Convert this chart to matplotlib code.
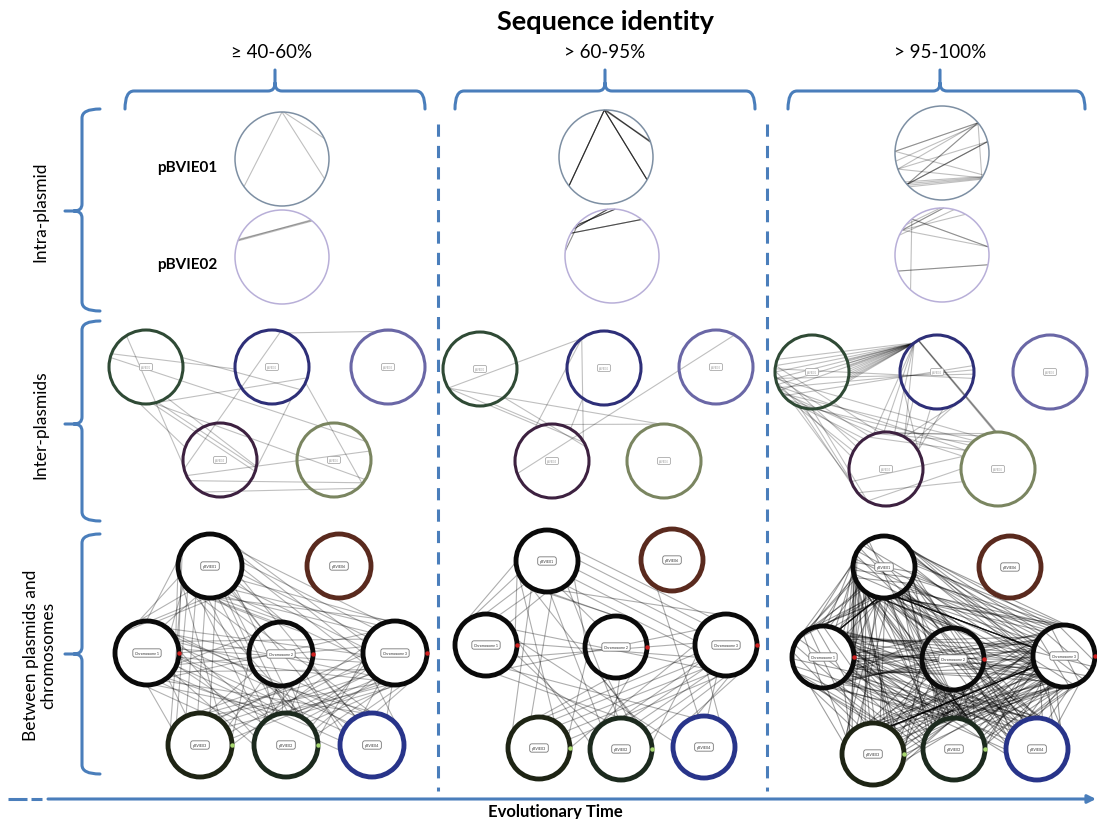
import numpy as np
import matplotlib.pyplot as plt
from math import gcd
from matplotlib.patches import Circle, PathPatch
from matplotlib.path import Path
from matplotlib.collections import LineCollection

plt.rcParams['font.family'] = ['Lato', 'DejaVu Sans']

# ---- data ---------------------------------------------------------------
identity_bins = ['\u2265 40-60%', '> 60-95%', '> 95-100%']
row_labels = ['Intra-plasmid', 'Inter-plasmids', 'Between plasmids and\nchromosomes']
intra_names = ['pBVIE01', 'pBVIE02']
inter_names = ['pBVIE01', 'pBVIE02', 'pBVIE03', 'pBVIE04', 'pBVIE05']
genome_names = ['pBVIE01', 'pBVIE06', 'Chromosome 1', 'Chromosome 2', 'Chromosome 3',
                'pBVIE03', 'pBVIE02', 'pBVIE04']

# links: (node a, pos a from, pos a to, node b, pos b from, pos b to, number of hits)
# positions are angles (deg) on the circular replicon
intra_links = [
    [(0, 90, 90, 0, 216, 216, 1), (0, 90, 90, 0, -25, -25, 1), (0, 88, 88, 0, 26, 26, 1),
     (1, 160, 158, 1, 50, 52, 3)],
    [(0, 92, 92, 0, 218, 218, 3), (0, 92, 92, 0, -29, -29, 3), (0, 90, 92, 0, 18, 20, 3),
     (1, 139, 139, 1, 86, 86, 2), (1, 151, 151, 1, 51, 51, 2), (1, 174, 174, 1, 135, 135, 1),
     (1, 145, 145, 1, 95, 95, 2)],
    [(0, 40, 40, 0, 178, 178, 2), (0, 40, 40, 0, 200, 200, 1), (0, 40, 40, 0, 222, 222, 2),
     (0, 38, 38, 0, 190, 190, 1), (0, 14, 14, 0, 222, 222, 3), (0, 218, 226, 0, -30, -34, 4),
     (0, 200, 200, 0, -32, -32, 1), (0, 178, 178, 0, -28, -28, 1), (0, 40, 40, 0, -32, -32, 1),
     (0, 14, 14, 0, 200, 200, 1),
     (1, 148, 148, 1, 88, 88, 2), (1, 140, 140, 1, 92, 92, 1), (1, 148, 148, 1, 60, 60, 1),
     (1, 130, 130, 1, 10, 10, 2), (1, 148, 148, 1, 10, 10, 1), (1, 200, 200, 1, -12, -12, 2),
     (1, 130, 130, 1, 228, 228, 1), (1, 155, 155, 1, 75, 75, 1)],
]

inter_links = [
    [(0, 122, 122, 3, 189, 189, 1), (0, 159, 159, 1, 183, 183, 1), (0, 15, 15, 1, -38, -38, 1),
     (0, -84, -84, 1, -17, -17, 1), (0, -80, -72, 3, -18, -12, 2), (0, -78, -78, 4, -32, -32, 1),
     (0, -56, -56, 3, -10, -10, 1), (0, 165, 165, 4, 30, 30, 1), (0, -100, -100, 3, 160, 160, 1),
     (1, 76, 76, 3, 194, 194, 1), (1, -58, -58, 3, -15, -15, 1), (1, -25, -25, 4, -40, -40, 1),
     (1, 67, 67, 2, 76, 76, 1), (3, 205, 205, 4, 14, 14, 1), (3, 214, 214, 4, -38, -38, 1),
     (3, 240, 240, 4, -50, -50, 1)],
    [(0, 211, 211, 1, 127, 127, 1), (0, 211, 211, 4, 95, 95, 1), (0, 211, 211, 3, 110, 110, 1),
     (0, -50, -50, 3, 22, 22, 1), (0, -70, -70, 3, 30, 30, 1), (1, 127, 127, 3, 118, 118, 1),
     (1, 127, 127, 3, 32, 32, 1), (1, 235, 235, 3, 60, 60, 1), (2, 60, 60, 3, 200, 200, 1),
     (3, 100, 100, 4, 95, 95, 1)],
    [(0, -15, 20, 1, 128, 132, 12), (0, 160, 210, 1, 128, 130, 6), (0, 170, 230, 3, 100, 160, 8),
     (0, 190, 240, 4, 120, 160, 5), (0, 175, 220, 1, -10, 10, 4), (1, 128, 128, 3, 60, 110, 4),
     (1, 120, 121, 4, 92, 95, 4), (1, -80, -40, 3, 30, 60, 3), (3, 80, 120, 4, 100, 150, 4),
     (3, 200, 240, 4, 160, 200, 3), (0, 240, 270, 3, 200, 240, 4), (1, 200, 260, 3, 0, 60, 3)],
]

genome_links = [
    [(0, 150, 280, 2, 10, 140, 9), (0, 230, 330, 3, 40, 170, 7), (0, 280, 400, 4, 90, 200, 12),
     (0, 190, 280, 5, 50, 160, 6), (0, 230, 320, 6, 50, 140, 6), (0, 280, 340, 7, 90, 150, 3),
     (2, -50, 50, 4, 140, 240, 8), (2, -80, 20, 6, 80, 180, 8), (2, -60, 30, 7, 100, 190, 6),
     (2, 230, 310, 5, 80, 150, 3), (3, 190, 280, 5, 10, 100, 5), (3, 230, 310, 6, 40, 140, 8),
     (3, 260, 340, 7, 80, 160, 5), (4, 170, 260, 5, 0, 80, 8), (4, 190, 280, 6, 10, 90, 10),
     (4, 220, 310, 7, 40, 130, 5), (2, -20, 40, 3, 140, 220, 4)],
    [(0, 160, 270, 2, 20, 140, 6), (0, 230, 330, 3, 50, 170, 4), (0, 290, 380, 4, 100, 190, 6),
     (0, 200, 280, 5, 60, 150, 3), (0, 240, 310, 6, 60, 130, 3), (2, -50, 30, 4, 150, 230, 4),
     (2, -70, 10, 6, 90, 170, 4), (2, -50, 10, 7, 110, 170, 2), (3, 230, 300, 6, 50, 130, 4),
     (3, 200, 260, 5, 20, 90, 2), (4, 180, 260, 5, 0, 80, 6), (4, 200, 270, 6, 10, 90, 6),
     (4, 230, 300, 7, 60, 130, 4), (1, 240, 240, 7, 100, 100, 1)],
    [(0, 150, 280, 2, 0, 150, 28), (0, 230, 340, 3, 40, 180, 18), (0, 280, 410, 4, 80, 200, 26),
     (0, 180, 280, 5, 40, 160, 14), (0, 220, 320, 6, 40, 150, 14), (0, 270, 350, 7, 80, 160, 10),
     (2, -60, 60, 4, 130, 240, 20), (2, -80, 20, 6, 70, 180, 16), (2, -60, 30, 7, 90, 190, 12),
     (2, 210, 310, 5, 60, 160, 10), (3, 180, 280, 5, 0, 110, 12), (3, 220, 320, 6, 40, 140, 16),
     (3, 250, 350, 7, 70, 170, 10), (4, 160, 260, 5, -20, 90, 18), (4, 180, 280, 6, 0, 100, 18),
     (4, 210, 310, 7, 30, 140, 12), (2, -30, 50, 3, 130, 230, 12), (3, -30, 40, 4, 140, 220, 10),
     (0, 120, 200, 0, -70, -10, 12), (2, 90, 210, 2, -20, -90, 10), (4, 100, 200, 4, -10, -80, 8),
     (0, -100, -100, 2, 60, 60, 6), (0, -70, -70, 4, 165, 165, 6), (4, 200, 200, 5, 60, 60, 6)],
]

# ---- layout -------------------------------------------------------------
BLUE = '#4a7ebb'
col_centers = [272, 605, 940]
intra_xy = [[(282, 160), (282, 258)], [(606, 158), (612, 257)], [(942, 154), (942, 256)]]
intra_col = ['#7d8fa3', '#b8afd8']
inter_xy = [[(146, 368), (272, 368), (388, 368), (220, 461), (334, 461)],
            [(480, 370), (604, 369), (716, 368), (552, 462), (664, 462)],
            [(812, 373), (937, 373), (1050, 373), (886, 470), (998, 470)]]
inter_col = ['#2f4a35', '#2e2f78', '#6a67a6', '#3d2140', '#7a8560']
genome_xy = [[(210, 567), (339, 567), (147, 654), (281, 655), (395, 654), (200, 746), (286, 746), (372, 746)],
             [(547, 562), (672, 561), (486, 646), (616, 648), (726, 646), (539, 749), (621, 750), (704, 748)],
             [(884, 568), (1010, 568), (823, 658), (953, 660), (1064, 657), (873, 755), (954, 750), (1037, 750)]]
genome_col = ['#0a0a0a', '#5a2a1e', '#0a0a0a', '#0a0a0a', '#0a0a0a', '#1e2414', '#1c2a1e', '#28348a']

fig = plt.figure(figsize=(10.97, 8.20), dpi=100)
ax = fig.add_axes([0, 0, 1, 1])
ax.set_xlim(0, 1097)
ax.set_ylim(820, 0)
ax.axis('off')


def pt(c, r, ang):
    a = np.radians(ang)
    return (c[0] + r * np.cos(a), c[1] - r * np.sin(a))


def draw_links(links, centers, r, alpha, lw):
    segs = []
    for a, a1, a2, b, b1, b2, n in links:
        # hits along replicon b are not in the same order as along a
        step = next((s for s in (5, 3, 7) if gcd(s, n) == 1), 1)
        for k in range(n):
            ta = 0.5 if n == 1 else k / (n - 1)
            tb = 0.5 if n == 1 else ((k * step) % n) / (n - 1)
            segs.append([pt(centers[a], r, a1 + (a2 - a1) * ta),
                         pt(centers[b], r, b1 + (b2 - b1) * tb)])
    ax.add_collection(LineCollection(segs, colors='black', linewidths=lw, alpha=alpha, zorder=2))


def node(c, r, color, lw, label=None, fs=2.5, tc='#333333', ec='#777777'):
    ax.add_patch(Circle(c, r, fill=False, ec=color, lw=lw, zorder=3))
    if label:
        ax.text(c[0], c[1], label, fontsize=fs, color=tc, ha='center', va='center', zorder=4,
                bbox=dict(boxstyle='round,pad=0.6', fc='white', ec=ec, lw=0.6))


# title and headers
ax.text(605, 22, 'Sequence identity', fontsize=19.5, fontweight='bold', ha='center', va='center')
for x, lab in zip(col_centers, identity_bins):
    ax.text(x, 53, lab, fontsize=13.5, ha='center', va='center')

# top braces
for x0, xc, x1 in [(125, 275, 425), (455, 605, 755), (788, 940, 1085)]:
    yb = 92
    verts = [(x0, 110), (x0, yb), (x0 + 9, yb), (xc - 7, yb), (xc, yb), (xc, yb - 8), (xc, 71),
             (xc, yb - 8), (xc, yb), (xc + 7, yb), (x1 - 9, yb), (x1, yb), (x1, 110)]
    codes = [Path.MOVETO, Path.CURVE3, Path.CURVE3, Path.LINETO, Path.CURVE3, Path.CURVE3, Path.LINETO,
             Path.MOVETO, Path.CURVE3, Path.CURVE3, Path.LINETO, Path.CURVE3, Path.CURVE3]
    ax.add_patch(PathPatch(Path(verts, codes), fill=False, ec=BLUE, lw=2.2, capstyle='round'))

# left braces and row labels
for (y0, yc, y1), lab in zip([(110, 212, 312), (322, 425, 522), (535, 655, 775)], row_labels):
    xs = 82
    verts = [(100, y0), (xs, y0), (xs, y0 + 9), (xs, yc - 7), (xs, yc), (xs - 8, yc), (65, yc),
             (xs - 8, yc), (xs, yc), (xs, yc + 7), (xs, y1 - 9), (xs, y1), (100, y1)]
    codes = [Path.MOVETO, Path.CURVE3, Path.CURVE3, Path.LINETO, Path.CURVE3, Path.CURVE3, Path.LINETO,
             Path.MOVETO, Path.CURVE3, Path.CURVE3, Path.LINETO, Path.CURVE3, Path.CURVE3]
    ax.add_patch(PathPatch(Path(verts, codes), fill=False, ec=BLUE, lw=2.2, capstyle='round'))
    ax.text(40, yc, lab, fontsize=12.5, rotation=90, ha='center', va='center', linespacing=1.1)

# dashed column separators
for x in [438, 767]:
    ax.plot([x, x], [125, 792], color=BLUE, lw=2.2, dashes=(4, 3))

# intra-plasmid row
ax.text(187, 168, intra_names[0], fontsize=11, fontweight='bold', ha='center', va='center')
ax.text(187, 265, intra_names[1], fontsize=11, fontweight='bold', ha='center', va='center')
for ci in range(3):
    draw_links(intra_links[ci], intra_xy[ci], 47, [0.25, 0.45, 0.25][ci], 0.8)
    for k in range(2):
        node(intra_xy[ci][k], 47, intra_col[k], 1.1)

# inter-plasmid row
for ci in range(3):
    draw_links(inter_links[ci], inter_xy[ci], 37, 0.25, 0.8)
    for k in range(5):
        node(inter_xy[ci][k], 37, inter_col[k], 2.2, inter_names[k], fs=1.8, tc='#999999', ec='#aaaaaa')

# plasmids vs chromosomes row
for ci in range(3):
    r = [32, 31, 31][ci]
    draw_links(genome_links[ci], genome_xy[ci], r, [0.3, 0.32, 0.38][ci], 0.8)
    for k in range(8):
        node(genome_xy[ci][k], r, genome_col[k], 3.5, genome_names[k], fs=2.6)
    for k in [2, 3, 4]:
        x, y = pt(genome_xy[ci][k], r, 0)
        ax.plot(x, y, 'o', ms=2.2, color='#d02020', zorder=5)
    for k in [5, 6]:
        x, y = pt(genome_xy[ci][k], r, 0)
        ax.plot(x, y, 'o', ms=2.2, color='#a8d870', zorder=5)

# evolutionary time arrow
ax.plot([8, 27], [800, 800], color=BLUE, lw=2.2, solid_capstyle='butt')
ax.plot([31, 42], [800, 800], color=BLUE, lw=2.2, solid_capstyle='butt')
ax.annotate('', xy=(1096, 800), xytext=(48, 800),
            arrowprops=dict(arrowstyle='-|>', color=BLUE, lw=2.2, mutation_scale=12, shrinkA=0, shrinkB=0))
ax.text(555, 812, 'Evolutionary Time', fontsize=12, fontweight='bold', ha='center', va='center')

fig.savefig('out.png', dpi=100)
